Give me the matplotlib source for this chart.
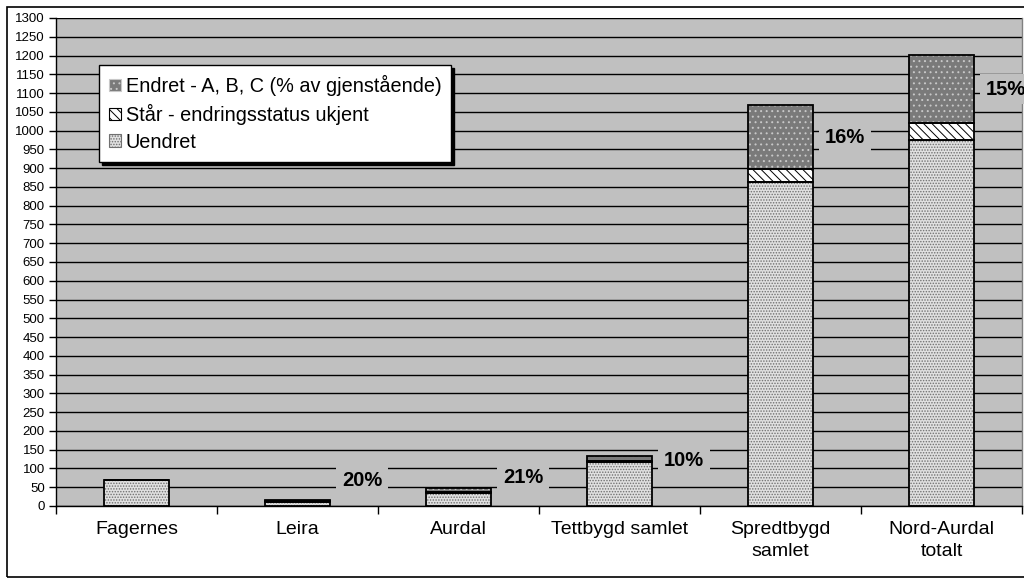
import matplotlib
matplotlib.use("Agg")
import matplotlib.pyplot as plt
from matplotlib.patches import Patch, Rectangle
import numpy as np

categories = ["Fagernes", "Leira", "Aurdal", "Tettbygd samlet", "Spredtbygd\nsamlet", "Nord-Aurdal\ntotalt"]
uendret = [68, 11, 35, 117, 863, 976]
staar = [0, 1, 3, 3, 34, 43]
endret = [0, 3, 10, 13, 170, 182]
pct_labels = ["", "20%", "21%", "10%", "16%", "15%"]
series_names = ["Endret - A, B, C (% av gjenstående)", "Står - endringsstatus ukjent", "Uendret"]
yticks = list(range(0, 1301, 50))

# layout for the percentage labels (y in data units)
label_y = [None, 67, 75, 121, 982, 1110]

plt.rcParams['font.family'] = ['Liberation Sans', 'DejaVu Sans']
plt.rcParams['hatch.linewidth'] = 0.7

fig = plt.figure(figsize=(10.24, 5.79), dpi=100)
ax = fig.add_axes([56/1024, 1 - 506/579, 966/1024, 488/579])
ax.set_facecolor('#c0c0c0')

x = np.arange(len(categories))
w = 0.40
u = np.array(uendret); s = np.array(staar); e = np.array(endret)

styles = [
    dict(face='#e0e0e0', hatch='......', hc='#707070'),   # uendret
    dict(face='white', hatch='\\\\\\\\', hc='black'),      # står
    dict(face='#7a7a7a', hatch='...', hc='#c8c8c8'),       # endret
]
bottoms = [np.zeros(len(x)), u, u + s]
vals = [u, s, e]
handles = []
for v, b, st in zip(vals, bottoms, styles):
    ax.bar(x, v, w, bottom=b, color=st['face'], hatch=st['hatch'], edgecolor=st['hc'], linewidth=0, zorder=3)
    ax.bar(x, v, w, bottom=b, fill=False, edgecolor='black', linewidth=1.3, zorder=4)
    handles.append(Patch(facecolor=st['face'], hatch=st['hatch'], edgecolor=st['hc'], linewidth=0.8))

ax.set_xlim(-0.5, len(x) - 0.5)
ax.set_ylim(0, 1300)
ax.set_yticks(yticks)
ax.set_yticklabels([str(t) for t in yticks], fontsize=9.5)
ax.yaxis.grid(True, color='black', linewidth=1.0, zorder=1)
ax.set_axisbelow(True)
ax.tick_params(axis='y', direction='out', length=5, width=1, pad=3)

ax.set_xticks(x)
ax.set_xticklabels(categories, fontsize=14, linespacing=1.4, va='top')
ax.set_xticks(np.arange(-0.5, len(x) + 0.5, 1), minor=True)
ax.tick_params(axis='x', which='major', length=0, pad=11)
ax.tick_params(axis='x', which='minor', direction='out', length=6, width=1)
for sp in ax.spines.values():
    sp.set_color('black'); sp.set_linewidth(1.0)
ax.spines['right'].set_color('#808080')
ax.spines['top'].set_visible(False)

for i, (lab, ly) in enumerate(zip(pct_labels, label_y)):
    if lab:
        ax.text(i + 0.40, ly, lab, ha='center', va='center', fontsize=14.5, fontweight='bold',
                bbox=dict(facecolor='#c0c0c0', edgecolor='none', pad=4), zorder=5)

leg = ax.legend(handles[::-1], series_names, loc='upper left', bbox_to_anchor=(0.0445, 0.904),
                borderaxespad=0, fontsize=14.3, frameon=True, fancybox=False, edgecolor='black',
                framealpha=1, shadow={'color': 'black', 'alpha': 1}, handlelength=0.6,
                handleheight=0.6, handletextpad=0.25, labelspacing=0.4, borderpad=0.5)
leg.get_frame().set_linewidth(1.0)
leg.set_zorder(10)

fig.patches.append(Rectangle((7/1024, 2/579), 1.2, 570/579, transform=fig.transFigure,
                             fill=False, edgecolor='black', linewidth=1.2))

fig.savefig('out.png', dpi=100, facecolor='white')
